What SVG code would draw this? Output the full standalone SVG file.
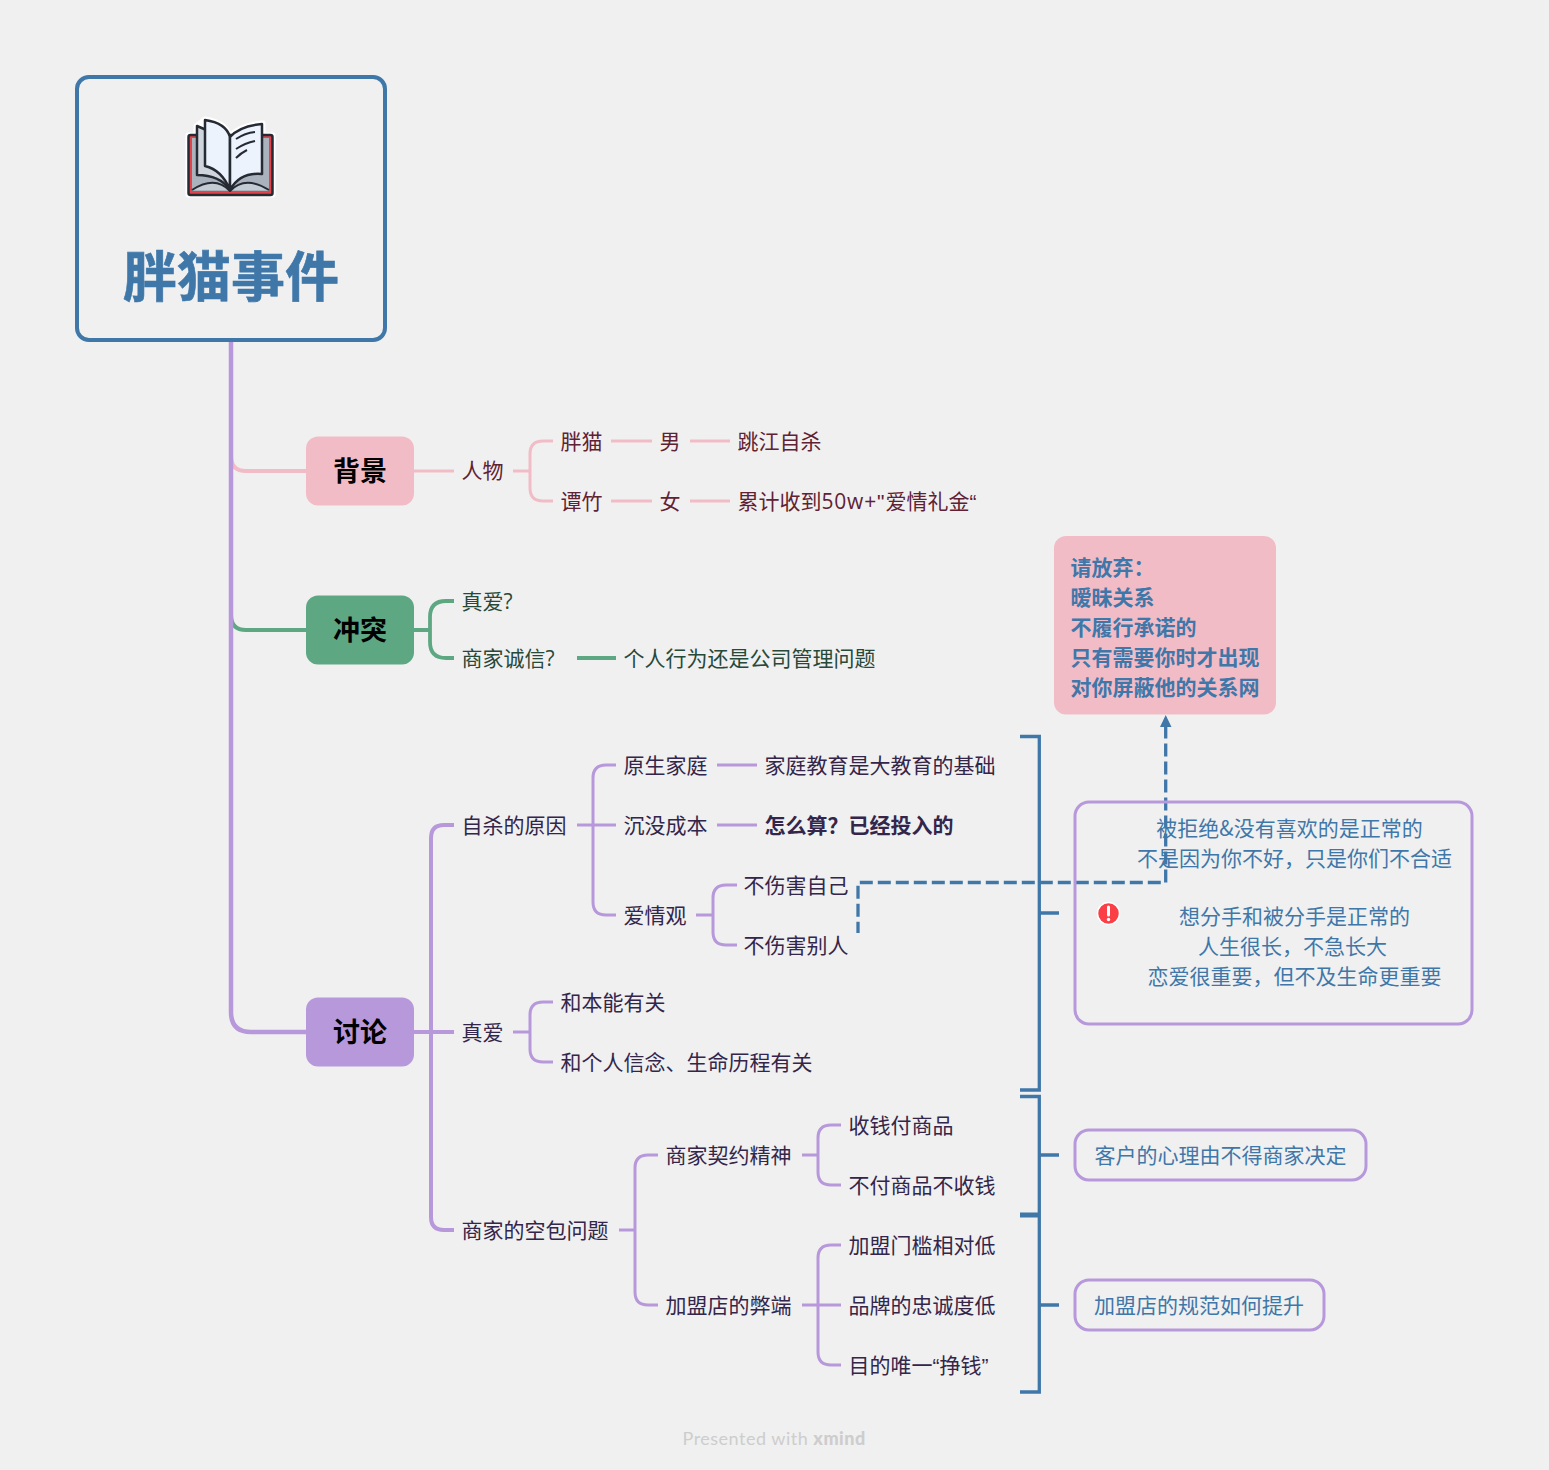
<svg xmlns="http://www.w3.org/2000/svg" width="1549" height="1470" viewBox="0 0 1549 1470">
<style>
text{font-family:"Noto Sans CJK SC","Noto Sans",sans-serif;font-size:21px}
.c{fill:none;stroke-width:3px;stroke-linejoin:round}
.main{stroke-width:4px}
.p{stroke:#f2bcc7}.g{stroke:#5da883}.v{stroke:#b798db}
.tp{fill:#5f2233}.tg{fill:#27493a}.tv{fill:#33264a}
.m{font-size:27px;font-weight:700;fill:#000;text-anchor:middle}
.b{fill:none;stroke:#3f77a9;stroke-width:3.300px}
.s{fill:none;stroke:#b798db;stroke-width:3px}
.tb{fill:#3f77a9}
.q{font-family:"Liberation Sans",sans-serif}
.l{font-family:"Open Sans",sans-serif}
</style>
<rect width="1549" height="1470" fill="#f0f0f0"/>
<g id="connectors">
<path class="c main p" d="M231 340V456Q231 471 246 471H306"/>
<path class="c main g" d="M231 340V615Q231 630 246 630H306"/>
<path class="c main v" d="M231 340V1012Q231 1032 251 1032H306" style="stroke-width:4.500px"/>
<path class="c p" d="M414 471H454M513 471H530M553 441H543Q530 441 530 454V488Q530 501 543 501H553M611 441H652M611 501H652M690 441H730M690 501H730"/>
<path class="c g" d="M414 630H430M454 601H446Q430 601 430 617V642Q430 658 446 658H454M577 658H616" style="stroke-width:3.800px"/>
<path class="c v" d="M414 1032H454M454 825H444Q431 825 431 838V1217Q431 1230 444 1230H454" style="stroke-width:4px"/>
<path class="c v" d="M577 825H593M616 765H606Q593 765 593 778V902Q593 915 606 915H616M593 825H616M717 765H757M717 825H757M696 915H713M737 885H726Q713 885 713 898V932Q713 945 726 945H737"/>
<path class="c v" d="M513 1032H530M553 1002H543Q530 1002 530 1015V1049Q530 1062 543 1062H553"/>
<path class="c v" d="M619 1230H635M658 1155H648Q635 1155 635 1168V1292Q635 1305 648 1305H658"/>
<path class="c v" d="M802 1155H818M841 1125H831Q818 1125 818 1138V1172Q818 1185 831 1185H841"/>
<path class="c v" d="M802 1305H841M841 1245H831Q818 1245 818 1258V1352Q818 1365 831 1365H841"/>
<path class="b" d="M1020 736.500H1039.300V1090H1020M1039.300 913H1059"/>
<path class="b" d="M1020 1096.500H1039.300V1392H1020M1039.300 1155H1059M1039.300 1305H1059"/>
<path d="M1020 1212.500H1039V1217.500H1020Z" fill="#3f77a9"/>
<path d="M858 933V882.500H1165.700V726" fill="none" stroke="#3f77a9" stroke-width="3.300" stroke-dasharray="13 5" stroke-dashoffset="1.700"/>
<path d="M1165.700 715L1171.500 727H1160Z" fill="#3f77a9"/>
</g>
<g id="root">
<rect x="77" y="77" width="308" height="263" rx="12" fill="#f0f0f0" stroke="#3f77a9" stroke-width="4"/>
<g id="book" stroke-linejoin="round">
<path d="M188 135H196V126L205 119Q226 122 230 136Q240 125 263 123V135H273V195H188Z" fill="#fff" stroke="#fff" stroke-width="5"/>
<rect x="188.500" y="135" width="84" height="60" rx="2" fill="#e2434b" stroke="#262a33" stroke-width="2.500"/>
<path d="M192 138H269V191H192Z" fill="#aab2bd"/>
<path d="M192 190Q215 175 230 191Q245 175 269 190" fill="#c4cbd3" stroke="#262a33" stroke-width="2"/>
<path d="M197 126V175Q220 175 230 190V140Z" fill="#cfd5dc" stroke="#262a33" stroke-width="2.500"/>
<path d="M205 120Q226 123 230 137V190Q222 170 205 166Z" fill="#edf3fd" stroke="#262a33" stroke-width="2.500"/>
<path d="M230 137Q240 126 262 124V174Q240 172 230 190Z" fill="#edf3fd" stroke="#262a33" stroke-width="2.500"/>
<path d="M236 139Q245 133 255 132M236 149Q245 143 255 141M236 158Q241 153 247 150" fill="none" stroke="#262a33" stroke-width="2"/>
</g>
<text x="231" y="297" text-anchor="middle" stroke="#3f77a9" stroke-width="0.600" style="font-size:54px;font-weight:700;fill:#3f77a9">胖猫事件</text>
</g>
<g id="n-bg"><rect x="306" y="436.500" width="108" height="69" rx="12" fill="#f2bcc7"/><text class="m" x="360" y="481">背景</text></g>
<g id="n-ct"><rect x="306" y="595.500" width="108" height="69" rx="12" fill="#5da883"/><text class="m" x="360" y="640">冲突</text></g>
<g id="n-tl"><rect x="306" y="997.500" width="108" height="69" rx="12" fill="#b798db"/><text class="m" x="360" y="1042">讨论</text></g>
<g id="t-bg">
<text class="tp" x="461.500" y="478">人物</text>
<text class="tp" x="560.500" y="449">胖猫</text><text class="tp" x="659.500" y="449">男</text><text class="tp" x="737.500" y="449">跳江自杀</text>
<text class="tp" x="560.500" y="509">谭竹</text><text class="tp" x="659.500" y="509">女</text><text class="tp" x="737.500" y="509">累计收到<tspan class="l" letter-spacing="0.800">50w+</tspan><tspan class="q" letter-spacing="1">"</tspan>爱情礼金<tspan class="q">“</tspan></text>
</g>
<g id="t-ct">
<text class="tg" x="461.500" y="609">真爱<tspan class="l">?</tspan></text><text class="tg" x="461.500" y="665.500">商家诚信<tspan class="l">?</tspan></text><text class="tg" x="623.500" y="665.500">个人行为还是公司管理问题</text>
</g>
<g id="t-tl">
<text class="tv" x="461.500" y="832.500">自杀的原因</text>
<text class="tv" x="623.500" y="772.500">原生家庭</text><text class="tv" x="764.500" y="772.500">家庭教育是大教育的基础</text>
<text class="tv" x="623.500" y="832.500">沉没成本</text><text class="tv" x="764.500" y="832.500" font-weight="700">怎么算？已经投入的</text>
<text class="tv" x="623.500" y="922.500">爱情观</text><text class="tv" x="743.500" y="892.500">不伤害自己</text><text class="tv" x="743.500" y="952.500">不伤害别人</text>
<text class="tv" x="461.500" y="1039.500">真爱</text><text class="tv" x="560.500" y="1009.500">和本能有关</text><text class="tv" x="560.500" y="1069.500">和个人信念、生命历程有关</text>
<text class="tv" x="461.500" y="1237.500">商家的空包问题</text>
<text class="tv" x="665.500" y="1162.500">商家契约精神</text><text class="tv" x="848.500" y="1132.500">收钱付商品</text><text class="tv" x="848.500" y="1192.500">不付商品不收钱</text>
<text class="tv" x="665.500" y="1312.500">加盟店的弊端</text><text class="tv" x="848.500" y="1252.500">加盟门槛相对低</text><text class="tv" x="848.500" y="1312.500">品牌的忠诚度低</text><text class="tv" x="848.500" y="1372.500">目的唯一<tspan class="q">“</tspan>挣钱<tspan class="q">”</tspan></text>
</g>
<g id="callout">
<rect x="1054" y="536" width="222" height="178.500" rx="12" fill="#f2bcc7"/>
<g font-weight="700"><text class="tb" x="1070.500" y="575">请放弃：</text><text class="tb" x="1070.500" y="605">暧昧关系</text><text class="tb" x="1070.500" y="635">不履行承诺的</text><text class="tb" x="1070.500" y="665">只有需要你时才出现</text><text class="tb" x="1070.500" y="695">对你屏蔽他的关系网</text></g>
</g>
<g id="s1">
<rect class="s" x="1075" y="802" width="397" height="222" rx="14"/>
<g text-anchor="middle"><text class="tb" x="1289.500" y="836">被拒绝&amp;没有喜欢的是正常的</text><text class="tb" x="1294.500" y="866">不是因为你不好，只是你们不合适</text><text class="tb" x="1294.500" y="924">想分手和被分手是正常的</text><text class="tb" x="1292.500" y="954">人生很长，不急长大</text><text class="tb" x="1294.500" y="984">恋爱很重要，但不及生命更重要</text></g>
<circle cx="1108.500" cy="913.500" r="11" fill="#fb3f47" stroke="#fff" stroke-width="1.500"/>
<path d="M1108.500 907V915" stroke="#fff" stroke-width="3" stroke-linecap="round"/><circle cx="1108.500" cy="919.500" r="1.700" fill="#fff"/>
</g>
<g id="s2"><rect class="s" x="1075" y="1130" width="291" height="50" rx="14"/><text class="tb" x="1094.500" y="1162.500">客户的心理由不得商家决定</text></g>
<g id="s3"><rect class="s" x="1075" y="1280" width="249" height="50" rx="14"/><text class="tb" x="1094" y="1312.500">加盟店的规范如何提升</text></g>
<g id="credit"><text x="682.500" y="1445" style="font-family:Lato,'Open Sans',sans-serif;font-size:18px;letter-spacing:0.500px;fill:#cdcdcd">Presented with <tspan font-weight="900">xmind</tspan></text></g>
</svg>
